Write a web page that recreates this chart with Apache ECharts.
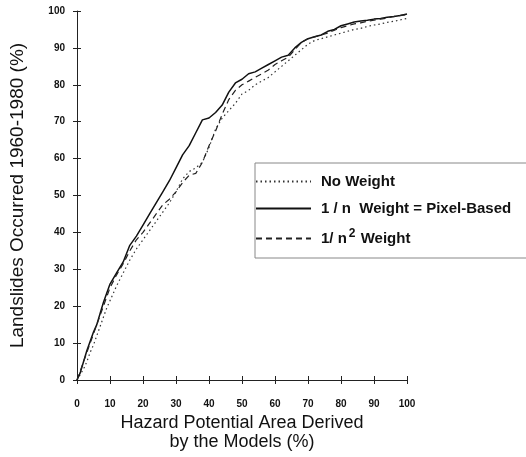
<!DOCTYPE html>
<html>
<head>
<meta charset="utf-8">
<script src="https://cdn.jsdelivr.net/npm/echarts@6/dist/echarts.min.js"></script>
<style>
  html, body { margin: 0; padding: 0; background: #fff; }
  #chart { width: 526px; height: 457px; }
</style>
</head>
<body>
<div id="chart"></div>
<script>
// hazard potential area (%)
const areaPct = [0, 1, 2, 3, 4, 5, 6, 7, 8, 9, 10, 12, 14, 16, 18, 20, 22, 24, 26, 28, 30,
    32, 34, 36, 38, 40, 42, 44, 46, 48, 50, 52, 54, 56, 58, 60, 62, 64, 66, 68, 70,
    72, 74, 76, 78, 80, 82, 84, 86, 88, 90, 92, 94, 96, 98, 100]

// landslides occurred (%)
const noWeight = [0, 1.5, 3, 5, 7.5, 9.5, 12, 14.5, 17, 19.5, 21.5, 25.5, 29, 32.5, 35.5, 38, 40.5, 43, 45.5, 48, 51,
    54.5, 56.5, 57.5, 59, 63, 68, 71, 73, 75, 77.5, 78.5, 80, 81, 82, 83.5, 85, 86.5, 88, 89.5, 91,
    92, 92.5, 93, 93.5, 94, 94.5, 95, 95.3, 95.8, 96.2, 96.5, 96.9, 97.2, 97.6, 98]
const pixelBased = [0, 2, 5, 8, 10.5, 13, 15, 18, 21, 23.5, 26, 29, 32, 36.5, 39, 42, 45, 48, 51, 54, 57.5,
    61, 63.5, 67, 70.5, 71, 72.5, 74.5, 78, 80.5, 81.5, 83, 83.5, 84.5, 85.5, 86.5, 87.5, 88, 90, 91.5, 92.5,
    93, 93.5, 94.5, 95, 96, 96.5, 97, 97.3, 97.5, 97.8, 98, 98.3, 98.5, 98.8, 99.2]
const nSquared = [0, 2.5, 5, 7.5, 10, 12.5, 15, 17.5, 20, 22.5, 25, 28.5, 31.5, 35, 38, 40, 42.5, 45, 47.5, 49, 51,
    53.5, 55.5, 56, 59, 63.5, 67.5, 72, 76, 78.5, 80, 81, 82, 83, 84, 85.5, 86.5, 87.5, 89.5, 91.5, 92.5,
    93, 93.5, 94, 94.8, 95.5, 96, 96.5, 96.8, 97.2, 97.5, 97.8, 98.1, 98.5, 98.8, 99]

const xTicks = [0, 100, 10]
const yTicks = [0, 100, 10]

const font = 'Liberation Sans, Arial, sans-serif'

const pairs = ys => areaPct.map((x, i) => [x, ys[i]])

const legendNames = {
    'No Weight': '{t|No Weight}',
    '1 / n  Weight = Pixel-Based': '{t|1 / n  Weight = Pixel-Based}',
    '1/n2 Weight': '{t|1/ n}{sup|2}{t| Weight}'
}

const baseAxis = {
    type: 'value',
    interval: 10,
    axisLine: { show: true, lineStyle: { color: '#222', width: 1 } },
    splitLine: { show: false }
}

const option = {
    animation: false,
    backgroundColor: '#fff',
    grid: { left: 74, right: 119, top: 11, bottom: 77 },
    legend: {
        orient: 'vertical',
        left: 255,
        top: 163,
        padding: [11, 60, 12, 0],
        itemWidth: 55,
        itemHeight: 16,
        itemGap: 12,
        borderColor: '#888',
        borderWidth: 1,
        itemStyle: { opacity: 0 },
        data: Object.keys(legendNames),
        formatter: name => legendNames[name],
        textStyle: {
            padding: [0, 0, 0, 5],
            rich: {
                t: { fontFamily: font, fontSize: 15, fontWeight: 'bold', color: '#111', lineHeight: 18 },
                sup: { fontFamily: font, fontSize: 12, fontWeight: 'bold', color: '#111', padding: [0, 1, 9, 2] }
            }
        }
    },
    xAxis: [
        Object.assign({}, baseAxis, {
            min: xTicks[0], max: xTicks[1], interval: xTicks[2],
            name: 'Hazard Potential Area Derived\nby the Models (%)',
            nameLocation: 'middle',
            nameGap: 34,
            nameTextStyle: { fontFamily: font, fontSize: 18, color: '#111', lineHeight: 19 },
            axisTick: { show: true, length: 4, lineStyle: { color: '#222' } },
            axisLabel: { margin: 19, fontFamily: font, fontSize: 10, fontWeight: 'bold', color: '#111' }
        }),
        Object.assign({}, baseAxis, {
            min: xTicks[0], max: xTicks[1], interval: xTicks[2],
            position: 'bottom',
            axisLine: { show: false },
            axisTick: { show: true, inside: true, length: 4, lineStyle: { color: '#222' } },
            axisLabel: { show: false }
        })
    ],
    yAxis: [
        Object.assign({}, baseAxis, {
            min: yTicks[0], max: yTicks[1], interval: yTicks[2],
            name: 'Landslides Occurred 1960-1980 (%)',
            nameLocation: 'middle',
            nameGap: 50,
            nameTextStyle: { fontFamily: font, fontSize: 19, color: '#111' },
            axisTick: { show: true, length: 4, lineStyle: { color: '#222' } },
            axisLabel: { margin: 12, fontFamily: font, fontSize: 10, fontWeight: 'bold', color: '#111' }
        }),
        Object.assign({}, baseAxis, {
            min: yTicks[0], max: yTicks[1], interval: yTicks[2],
            position: 'left',
            axisLine: { show: false },
            axisTick: { show: true, inside: true, length: 4, lineStyle: { color: '#222' } },
            axisLabel: { show: false }
        })
    ],
    series: [
        {
            name: 'No Weight',
            type: 'line',
            symbol: 'none',
            data: pairs(noWeight),
            itemStyle: { color: '#333' },
            lineStyle: { color: '#333', width: 1.2, type: [1.5, 3] }
        },
        {
            name: '1 / n  Weight = Pixel-Based',
            type: 'line',
            symbol: 'none',
            data: pairs(pixelBased),
            itemStyle: { color: '#111' },
            lineStyle: { color: '#111', width: 1.5, type: 'solid' }
        },
        {
            name: '1/n2 Weight',
            type: 'line',
            symbol: 'none',
            data: pairs(nSquared),
            itemStyle: { color: '#222' },
            lineStyle: { color: '#222', width: 1.2, type: [6, 4] }
        }
    ]
}

const chart = echarts.init(document.getElementById('chart'))
chart.setOption(option)
</script>
</body>
</html>
